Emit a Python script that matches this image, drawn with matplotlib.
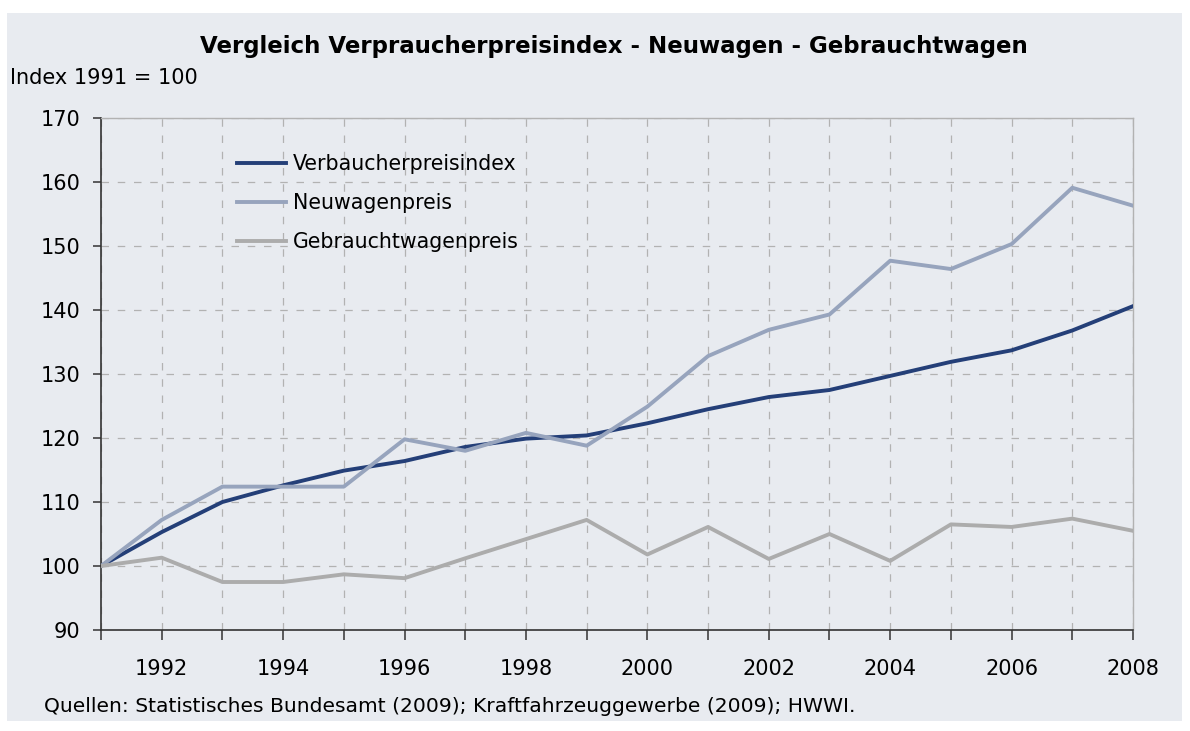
import matplotlib.pyplot as plt
from matplotlib.patches import Rectangle

plt.rcParams['font.family'] = ['DejaVu Sans']

# Data (Index 1991 = 100)
years = list(range(1991, 2009))
vpi = [100, 105.3, 110.0, 112.6, 114.9, 116.4, 118.6, 119.9, 120.4, 122.3,
       124.5, 126.4, 127.5, 129.7, 131.9, 133.7, 136.8, 140.6]
neuwagen = [100, 107.2, 112.4, 112.4, 112.4, 119.8, 118.0, 120.8, 118.8, 124.9,
            132.8, 136.9, 139.3, 147.7, 146.4, 150.3, 159.1, 156.3]
gebraucht = [100, 101.3, 97.5, 97.5, 98.7, 98.1, 101.2, 104.2, 107.2, 101.8,
             106.1, 101.1, 105.0, 100.8, 106.5, 106.1, 107.4, 105.5]
series_names = ['Verbaucherpreisindex', 'Neuwagenpreis', 'Gebrauchtwagenpreis']
series_colors = ['#243f78', '#97a4bd', '#acacac']
year_labels = [str(y) if y % 2 == 0 else '' for y in years]

bg = '#e8ebf0'

fig = plt.figure(figsize=(11.9, 7.31), dpi=100)
fig.patch.set_facecolor('white')
fig.patches.append(Rectangle((7 / 1190, 1 - 721 / 731), 1175 / 1190, 708 / 731,
                             transform=fig.transFigure, facecolor=bg,
                             edgecolor='none', zorder=-10))

ax = fig.add_axes([101 / 1190, 1 - 630 / 731, 1032 / 1190, 512 / 731])
ax.set_facecolor(bg)

for vals, name, col in zip([vpi, neuwagen, gebraucht], series_names, series_colors):
    ax.plot(years, vals, color=col, lw=2.8, label=name, zorder=3)

ax.set_xlim(1991, 2008)
ax.set_ylim(90, 170)
ax.set_yticks(range(90, 171, 10))
ax.set_xticks(years)
ax.set_xticklabels(year_labels)

ax.grid(True, color='#b2b2b2', linestyle=(0, (6, 7)), linewidth=0.9, zorder=1)
ax.set_axisbelow(True)

for s in ['left', 'bottom']:
    ax.spines[s].set_color('#333333')
    ax.spines[s].set_linewidth(1.2)
for s in ['right', 'top']:
    ax.spines[s].set_color('#b2b2b2')
    ax.spines[s].set_linewidth(1.0)

ax.tick_params(axis='x', direction='out', length=7, width=1.1, color='#333333',
               labelsize=15, pad=14)
ax.tick_params(axis='y', direction='out', length=6, width=1.1, color='#333333',
               labelsize=15, pad=9)

leg = ax.legend(loc='upper left', bbox_to_anchor=(0.114, 0.966), frameon=False,
                fontsize=14.8, handlelength=2.4, handletextpad=0.3,
                labelspacing=0.92)

fig.text(0.516, 1 - 46 / 731, 'Vergleich Verpraucherpreisindex - Neuwagen - Gebrauchtwagen',
         ha='center', va='center', fontsize=16.5, fontweight='bold')
fig.text(10 / 1190, 1 - 78 / 731, 'Index 1991 = 100', ha='left', va='center', fontsize=15)
fig.text(44 / 1190, 1 - 707 / 731,
         'Quellen: Statistisches Bundesamt (2009); Kraftfahrzeuggewerbe (2009); HWWI.',
         ha='left', va='center', fontsize=14.6)

fig.savefig('out.png', dpi=100, facecolor=fig.get_facecolor())
